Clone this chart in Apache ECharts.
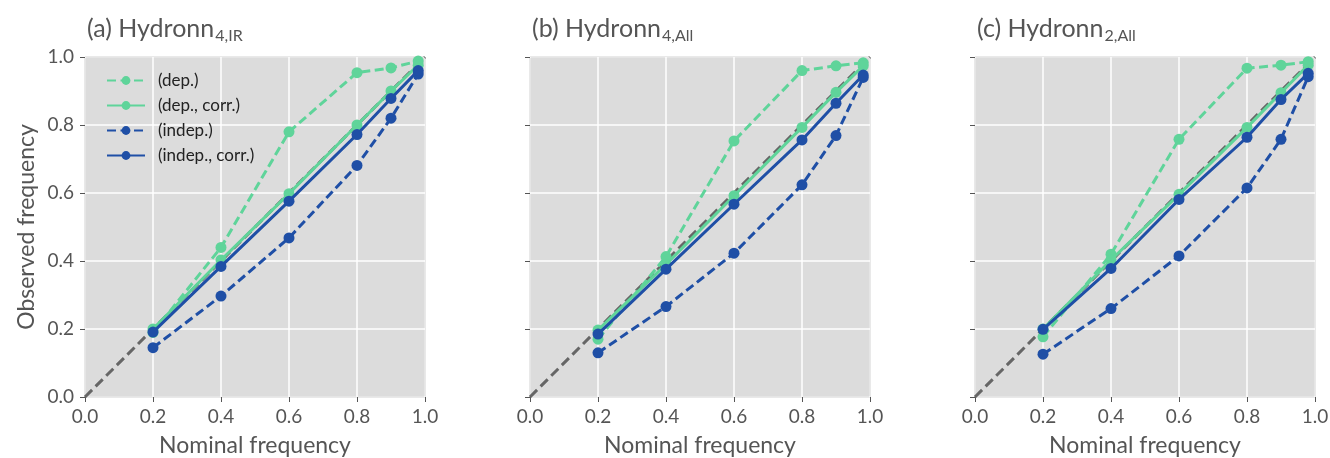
<!DOCTYPE html>
<html>
<head>
<meta charset="utf-8">
<script src="https://cdn.jsdelivr.net/npm/echarts@6/dist/echarts.min.js"></script>
<style>
  html, body { margin: 0; padding: 0; background: #fff; }
  #chart { width: 1330px; height: 458px; }
</style>
</head>
<body>
<div id="chart"></div>
<script>
// nominal frequencies (x) shared by all panels
const nominal = [0.2, 0.4, 0.6, 0.8, 0.9, 0.98];
const diagonal = [0, 1];

const panelTitles = ["(a) Hydronn", "(b) Hydronn", "(c) Hydronn"];
const panelSubs = ["4,IR", "4,All", "2,All"];
const seriesNames = ["(dep.)", "(dep., corr.)", "(indep.)", "(indep., corr.)"];

// (a) Hydronn 4,IR
const aDep = [0.19, 0.44, 0.78, 0.954, 0.968, 0.988];
const aDepCorr = [0.2, 0.403, 0.598, 0.8, 0.9, 0.976];
const aIndep = [0.145, 0.297, 0.468, 0.681, 0.82, 0.95];
const aIndepCorr = [0.191, 0.384, 0.576, 0.772, 0.878, 0.96];

// (b) Hydronn 4,All
const bDep = [0.17, 0.413, 0.753, 0.96, 0.974, 0.983];
const bDepCorr = [0.197, 0.39, 0.592, 0.793, 0.896, 0.974];
const bIndep = [0.13, 0.266, 0.423, 0.624, 0.769, 0.94];
const bIndepCorr = [0.185, 0.376, 0.567, 0.756, 0.864, 0.947];

// (c) Hydronn 2,All
const cDep = [0.177, 0.42, 0.758, 0.967, 0.976, 0.986];
const cDepCorr = [0.2, 0.403, 0.596, 0.793, 0.895, 0.976];
const cIndep = [0.126, 0.26, 0.415, 0.615, 0.758, 0.942];
const cIndepCorr = [0.199, 0.378, 0.581, 0.764, 0.875, 0.952];

const panels = [
  [aDep, aDepCorr, aIndep, aIndepCorr],
  [bDep, bDepCorr, bIndep, bIndepCorr],
  [cDep, cDepCorr, cIndep, cIndepCorr],
];

const green = "#5fd49a";
const blue = "#1f4fa6";
const font = "Lato";
const textColor = "#555";
const gridLefts = [85, 530, 975];

const seriesStyle = [
  { color: green, dash: [9, 4.5] },
  { color: green, dash: "solid" },
  { color: blue, dash: [9, 4.5] },
  { color: blue, dash: "solid" },
];

const pairs = (ys) => nominal.map((x, i) => [x, ys[i]]);

const grids = gridLefts.map((left) => ({
  left: left,
  top: 57,
  width: 340,
  height: 340,
  outerBoundsMode: "none",
  containLabel: false,
  show: true,
  backgroundColor: "#dcdcdc",
  borderColor: "#555",
  borderWidth: 1,
}));

const xAxes = gridLefts.map((_, i) => ({
  type: "value",
  gridIndex: i,
  min: 0,
  max: 1,
  interval: 0.2,
  name: "Nominal frequency",
  nameLocation: "middle",
  nameGap: 37,
  nameTextStyle: { fontFamily: font, fontSize: 23, color: textColor },
  axisLine: { show: false },
  axisTick: { show: true, length: 5, lineStyle: { color: "#555" } },
  axisLabel: {
    fontFamily: font,
    fontSize: 19,
    color: textColor,
    margin: 10,
    formatter: (v) => v.toFixed(1),
  },
  splitLine: { show: true, lineStyle: { color: "#fff", width: 1.5 } },
}));

const yAxes = gridLefts.map((_, i) => ({
  type: "value",
  gridIndex: i,
  min: 0,
  max: 1,
  interval: 0.2,
  name: i === 0 ? "Observed frequency" : "",
  nameLocation: "middle",
  nameGap: 47,
  nameTextStyle: { fontFamily: font, fontSize: 23, color: textColor },
  axisLine: { show: false },
  axisTick: { show: true, length: 5, lineStyle: { color: "#555" } },
  axisLabel: {
    show: i === 0,
    fontFamily: font,
    fontSize: 19,
    color: textColor,
    margin: 11,
    formatter: (v) => v.toFixed(1),
  },
  splitLine: { show: true, lineStyle: { color: "#fff", width: 1.5 } },
}));

const series = [];
panels.forEach((data, p) => {
  series.push({
    type: "line",
    xAxisIndex: p,
    yAxisIndex: p,
    data: diagonal.map((v) => [v, v]),
    symbol: "none",
    silent: true,
    z: 1,
    lineStyle: { color: "#666", width: 3, type: [10, 5] },
  });
  data.forEach((ys, s) => {
    series.push({
      type: "line",
      name: seriesNames[s],
      xAxisIndex: p,
      yAxisIndex: p,
      data: pairs(ys),
      symbol: "circle",
      symbolSize: 11,
      z: 2 + s,
      itemStyle: { color: seriesStyle[s].color },
      lineStyle: {
        color: seriesStyle[s].color,
        width: 3,
        type: seriesStyle[s].dash,
      },
    });
  });
});

const titles = panelTitles.map((t, i) => ({
  left: gridLefts[i] - 3,
  top: 9,
  text: t + "{s|" + panelSubs[i] + "}",
  textStyle: {
    fontFamily: font,
    fontSize: 25,
    fontWeight: "normal",
    color: textColor,
    lineHeight: 30,
    rich: {
      s: {
        fontFamily: font,
        fontSize: 16,
        color: textColor,
        lineHeight: 16,
        verticalAlign: "bottom",
        padding: [5, 0, 0, 1],
      },
    },
  },
}));

const chart = echarts.init(document.getElementById("chart"), null, { renderer: "canvas" });
chart.setOption({
  animation: false,
  title: titles,
  grid: grids,
  xAxis: xAxes,
  yAxis: yAxes,
  legend: {
    left: 101,
    top: 67,
    orient: "vertical",
    itemWidth: 38,
    itemHeight: 11,
    itemGap: 8,
    data: seriesNames,
    textStyle: { fontFamily: font, fontSize: 17, color: "#222", padding: [0, 0, 0, 8] },
  },
  series: series,
});
</script>
</body>
</html>
